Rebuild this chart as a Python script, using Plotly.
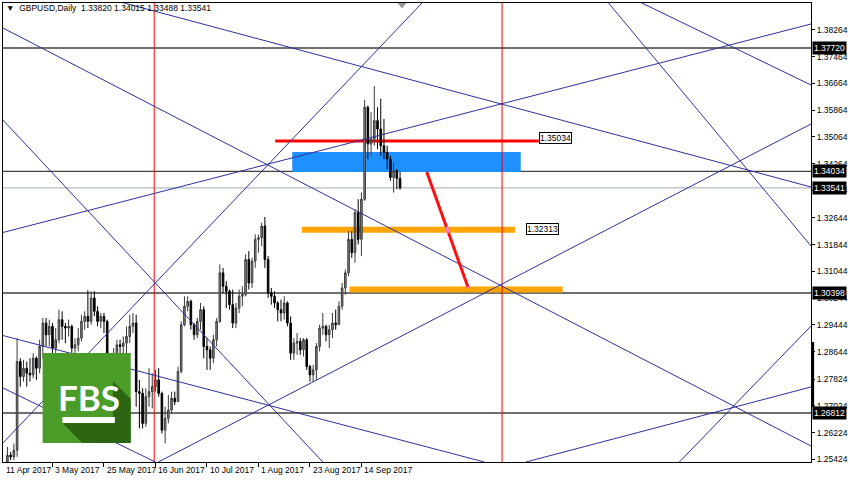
import plotly.graph_objects as go

# ---------------- data ----------------
opens = [1.2400,1.2475,1.2525,1.2555,1.2550,1.2570,1.2835,1.2790,1.2815,1.2800,
         1.2795,1.2845,1.2815,1.2880,1.2950,1.2915,1.2940,1.2875,1.2900,1.2960,
         1.2940,1.2935,1.2940,1.2875,1.2885,1.2905,1.2955,1.2970,1.2955,1.3025,
         1.2985,1.2955,1.2970,1.2955,1.2805,1.2840,1.2855,1.2885,1.2880,1.2890,
         1.2910,1.2940,1.2950,1.2745,1.2740,1.2650,1.2730,1.2745,1.2760,1.2780,
         1.2740,1.2630,1.2665,1.2690,1.2725,1.2715,1.2805,1.2945,1.3000,1.3015,
         1.2945,1.2915,1.2955,1.2990,1.2880,1.2870,1.2845,1.2900,1.2955,1.3100,
         1.3060,1.3045,1.3005,1.2950,1.2995,1.3030,1.3035,1.3140,1.3070,1.3135,
         1.3200,1.3205,1.3240,1.3140,1.3040,1.3030,1.3010,1.2990,1.2980,1.3010,
         1.2950,1.2860,1.2890,1.2895,1.2870,1.2900,1.2820,1.2795,1.2810,1.2880,
         1.2935,1.2940,1.2915,1.2930,1.2950,1.2945,1.3000,1.3055,1.3100,1.3200,
         1.3160,1.3280,1.3200,1.3320,1.3595,1.3485,1.3500,1.3555,1.3530,1.3480,
         1.3460,1.3440,1.3385,1.3405,1.33820]
highs = [1.2485,1.2535,1.2580,1.2565,1.2590,1.2905,1.2845,1.2840,1.2835,1.2845,
         1.2860,1.2850,1.2900,1.2965,1.2965,1.2960,1.2950,1.2935,1.2990,1.2985,
         1.2950,1.2960,1.2945,1.2905,1.2935,1.2975,1.2985,1.3048,1.3045,1.3045,
         1.3000,1.2980,1.2980,1.2960,1.2860,1.2875,1.2900,1.2900,1.2910,1.2940,
         1.2975,1.2980,1.2975,1.2780,1.2755,1.2755,1.2815,1.2800,1.2810,1.2815,
         1.2745,1.2700,1.2735,1.2745,1.2745,1.2820,1.2955,1.3030,1.3030,1.3020,
         1.2950,1.2965,1.3010,1.3000,1.2905,1.2880,1.2915,1.2965,1.3125,1.3115,
         1.3075,1.3050,1.3050,1.3010,1.3050,1.3060,1.3155,1.3165,1.3145,1.3215,
         1.3215,1.3250,1.3267,1.3150,1.3055,1.3045,1.3015,1.3020,1.3030,1.3015,
         1.2970,1.2905,1.2920,1.2905,1.2905,1.2905,1.2825,1.2825,1.2890,1.2945,
         1.2980,1.2945,1.2945,1.2980,1.2990,1.3015,1.3070,1.3110,1.3225,1.3225,
         1.3290,1.3320,1.3340,1.3617,1.3600,1.3580,1.3658,1.3595,1.3620,1.3560,
         1.3480,1.3450,1.3430,1.3410,1.34015]
lows = [1.2365,1.2440,1.2505,1.2540,1.2540,1.2550,1.2760,1.2775,1.2760,1.2775,
        1.2785,1.2780,1.2800,1.2845,1.2880,1.2880,1.2845,1.2850,1.2890,1.2900,
        1.2890,1.2910,1.2845,1.2840,1.2865,1.2895,1.2930,1.2935,1.2945,1.2970,
        1.2940,1.2935,1.2920,1.2800,1.2790,1.2770,1.2820,1.2840,1.2840,1.2860,
        1.2890,1.2920,1.2700,1.2635,1.2635,1.2640,1.2700,1.2695,1.2745,1.2730,
        1.2620,1.2590,1.2650,1.2680,1.2705,1.2715,1.2800,1.2940,1.2985,1.2930,
        1.2900,1.2905,1.2930,1.2845,1.2810,1.2810,1.2830,1.2880,1.2950,1.3040,
        1.2995,1.2990,1.2935,1.2935,1.2980,1.3000,1.3030,1.3050,1.3055,1.3115,
        1.3160,1.3180,1.3115,1.3025,1.3005,1.2995,1.2955,1.2955,1.2960,1.2940,
        1.2840,1.2840,1.2855,1.2855,1.2850,1.2810,1.2775,1.2774,1.2780,1.2865,
        1.2915,1.2895,1.2875,1.2905,1.2930,1.2945,1.2990,1.3035,1.3090,1.3145,
        1.3130,1.3185,1.3150,1.3315,1.3440,1.3450,1.3480,1.3470,1.3450,1.3440,
        1.3410,1.3375,1.3340,1.3350,1.33488]
closes = [1.2475,1.2525,1.2555,1.2550,1.2570,1.2835,1.2790,1.2815,1.2800,1.2795,
          1.2845,1.2815,1.2880,1.2950,1.2915,1.2940,1.2875,1.2900,1.2960,1.2940,
          1.2935,1.2940,1.2875,1.2885,1.2905,1.2955,1.2970,1.2955,1.3025,1.2985,
          1.2955,1.2970,1.2955,1.2805,1.2840,1.2855,1.2885,1.2880,1.2890,1.2910,
          1.2940,1.2950,1.2745,1.2740,1.2650,1.2730,1.2745,1.2760,1.2780,1.2740,
          1.2630,1.2665,1.2690,1.2725,1.2715,1.2805,1.2945,1.3000,1.3015,1.2945,
          1.2915,1.2955,1.2990,1.2880,1.2870,1.2845,1.2900,1.2955,1.3100,1.3060,
          1.3045,1.3005,1.2950,1.2995,1.3030,1.3035,1.3140,1.3070,1.3135,1.3200,
          1.3205,1.3240,1.3140,1.3040,1.3030,1.3010,1.2990,1.2980,1.3010,1.2950,
          1.2860,1.2890,1.2895,1.2870,1.2900,1.2820,1.2795,1.2810,1.2880,1.2935,
          1.2940,1.2915,1.2930,1.2950,1.2945,1.3000,1.3055,1.3100,1.3200,1.3160,
          1.3280,1.3200,1.3320,1.3595,1.3485,1.3500,1.3555,1.3530,1.3480,1.3460,
          1.3440,1.3385,1.3405,1.3382,1.33541]
bar_index = list(range(len(closes)))

date_tick_pos = [0, 16, 32, 48, 64, 80, 96, 112]
date_tick_labels = ["11 Apr 2017", "3 May 2017", "25 May 2017", "16 Jun 2017",
                    "10 Jul 2017", "1 Aug 2017", "23 Aug 2017", "14 Sep 2017"]

price_ticks = [1.38264, 1.37464, 1.36664, 1.35864, 1.35064, 1.34264, 1.33464,
               1.32644, 1.31844, 1.31044, 1.30244, 1.29444, 1.28644, 1.27824,
               1.27024, 1.26224, 1.25424]

hlines = [1.37720, 1.34034, 1.30398, 1.26812]   # dark horizontal levels
bid_price = 1.33541
vlines = [47.6, 155.7]                            # red vertical lines (bar index)

# trend lines: (x0, p0, x1, p1) in bar index / price
trendlines = [
    (0, 1.32191, 251.7, 1.38437),
    (0, 1.38348, 251.7, 1.25825),
    (0, 1.25855, 131.7, 1.39154),
    (0, 1.35628, 100.0, 1.25347),
    (0, 1.29143, 150.2, 1.25347),
    (0, 1.27588, 48.0, 1.25347),
    (197.2, 1.39155, 251.7, 1.36614),
    (48.9, 1.25347, 251.7, 1.35449),
    (34.8, 1.39155, 251.7, 1.33566),
    (188.0, 1.39155, 251.7, 1.31803),
    (210.8, 1.25347, 251.7, 1.29411),
    (163.1, 1.25347, 251.7, 1.27589),
]

blue_zone = (90.5, 161.5, 1.34014, 1.34612)
red_level = (85.2, 167.1, 1.34940)
orange_levels = [(93.5, 159.7, 1.32285), (108.3, 174.5, 1.30500)]
orange_half = 0.0009
forecast_path = (132.3, 1.34014, 145.2, 1.30547)
price_labels = [(167.1, 1.35034, "1.35034"), (163.1, 1.32313, "1.32313")]

X_RANGE = [0.62, 251.7]
Y_RANGE = [1.25347, 1.39065]

# ---------------- figure ----------------
fig = go.Figure()

# red vertical period separators (as traces, behind candles)
for v in vlines:
    fig.add_trace(go.Scatter(x=[v, v], y=Y_RANGE, mode="lines",
                             line=dict(color="#ff0000", width=1),
                             showlegend=False, hoverinfo="skip", cliponaxis=True))

fig.add_trace(go.Candlestick(
    x=bar_index, open=opens, high=highs, low=lows, close=closes,
    increasing=dict(fillcolor="#8a8a8a", line=dict(color="#3a3a3a", width=1)),
    decreasing=dict(fillcolor="#000000", line=dict(color="#000000", width=1)),
    whiskerwidth=0, showlegend=False, hoverinfo="skip"))

shapes = []
shapes.append(dict(type="rect", xref="x", yref="y", layer="below",
                   x0=blue_zone[0], x1=blue_zone[1], y0=blue_zone[2], y1=blue_zone[3],
                   fillcolor="#1e90ff", line=dict(width=0)))
shapes.append(dict(type="line", xref="x", yref="y", layer="below",
                   x0=red_level[0], x1=red_level[1], y0=red_level[2], y1=red_level[2],
                   line=dict(color="#ff0000", width=3)))
for x0, x1, p in orange_levels:
    shapes.append(dict(type="line", xref="x", yref="y", layer="below",
                       x0=x0, x1=x1, y0=p, y1=p, line=dict(color="#ffa500", width=6)))
for p in hlines:
    shapes.append(dict(type="line", xref="paper", yref="y", layer="below",
                       x0=0, x1=1, y0=p, y1=p, line=dict(color="#404040", width=1.3)))
shapes.append(dict(type="line", xref="paper", yref="y", layer="below",
                   x0=0, x1=1, y0=bid_price, y1=bid_price, line=dict(color="#b4bcc4", width=1.3)))
for x0, p0, x1, p1 in trendlines:
    shapes.append(dict(type="line", xref="x", yref="y", layer="above",
                       x0=x0, y0=p0, x1=x1, y1=p1, line=dict(color="#30309a", width=1)))
fx0, fp0, fx1, fp1 = forecast_path
shapes.append(dict(type="line", xref="x", yref="y", layer="above",
                   x0=fx0, y0=fp0, x1=fx1, y1=fp1, line=dict(color="#ff1010", width=3)))
# pink blend where the forecast path crosses the orange bands
for _, _, p in orange_levels:
    segs = []
    for q in (p + orange_half, p - orange_half):
        t = (fp0 - q) / (fp0 - fp1)
        t = min(max(t, 0.0), 1.0)
        segs.append((fx0 + t * (fx1 - fx0), fp0 + t * (fp1 - fp0)))
    shapes.append(dict(type="line", xref="x", yref="y", layer="above",
                       x0=segs[0][0], y0=segs[0][1], x1=segs[1][0], y1=segs[1][1],
                       line=dict(color="#ff7fc8", width=3)))

shapes.append(dict(type="line", xref="paper", yref="y", layer="above",
                   x0=1.002, x1=1.002, y0=1.26990, y1=1.28933, line=dict(color="#000000", width=3)))
shapes.append(dict(type="path", xref="x", yref="paper", layer="above",
                   path="M 123.2 1.0 L 126.0 1.0 L 124.6 0.988 Z",
                   fillcolor="#9a9a9a", line=dict(width=0)))

def px(xp):
    return (xp - 2) / 816.0
def py(yp):
    return (462 - yp) / 459.0
def xpaper(idx):
    return max(0.0, (idx - X_RANGE[0]) / (X_RANGE[1] - X_RANGE[0]))

shapes.append(dict(type="rect", xref="paper", yref="paper", layer="above",
                   x0=px(42), x1=px(131), y0=py(443), y1=py(353),
                   fillcolor="#4c9c2a", line=dict(width=0)))
shadow = "M {a} {b} L {c} {d} L {e} {f} L {g} {h} L {i} {j} L {k} {l} Z".format(
    a=px(62), b=py(423), c=px(113), d=py(423), e=px(113), f=py(381),
    g=px(131), h=py(399), i=px(131), j=py(443), k=px(82), l=py(443))
shapes.append(dict(type="path", xref="paper", yref="paper", layer="above",
                   path=shadow, fillcolor="#2c6612", line=dict(width=0)))
shapes.append(dict(type="rect", xref="paper", yref="paper", layer="above",
                   x0=px(62), x1=px(115), y0=py(423), y1=py(417),
                   fillcolor="#ffffff", line=dict(width=0)))

annotations = []
annotations.append(dict(xref="paper", yref="paper", x=px(88.5), y=py(397),
                        text="<b>FBS</b>", showarrow=False, xanchor="center", yanchor="middle",
                        font=dict(family="Lato, Roboto, Liberation Sans", size=35, color="#ffffff")))
annotations.append(dict(xref="paper", yref="paper", x=px(3), y=py(8), xanchor="left", yanchor="middle",
                        text="▼  GBPUSD,Daily  1.33820 1.34015 1.33488 1.33541", showarrow=False,
                        font=dict(family="Liberation Sans, Arial", size=8.5, color="#000000")))
for pos, lab in zip(date_tick_pos, date_tick_labels):
    annotations.append(dict(xref="paper", yref="paper", x=xpaper(pos), y=0, xanchor="left", yanchor="top",
                            xshift=1, yshift=-1, text=lab, showarrow=False,
                            font=dict(family="Liberation Sans, Arial", size=8.5, color="#000000")))
for p in hlines + [bid_price]:
    annotations.append(dict(xref="paper", yref="y", x=1.0, y=p, xanchor="left", yanchor="middle",
                            xshift=1, text="%.5f" % p, showarrow=False, bgcolor="#000000",
                            borderpad=1, font=dict(family="Liberation Sans, Arial", size=8.5, color="#ffffff")))
for xx, p, t in price_labels:
    annotations.append(dict(xref="x", yref="y", x=xx, y=p, xanchor="left", yanchor="middle",
                            text=t, showarrow=False, bgcolor="#ffffff", bordercolor="#000000",
                            borderwidth=1, borderpad=0,
                            font=dict(family="Liberation Sans, Arial", size=8.5, color="#000000")))

fig.update_layout(
    width=850, height=480,
    margin=dict(l=2, r=32, t=3, b=18, pad=0),
    paper_bgcolor="#ffffff", plot_bgcolor="#ffffff",
    shapes=shapes, annotations=annotations,
    showlegend=False, hovermode=False,
    xaxis=dict(range=X_RANGE, showgrid=False, zeroline=False, rangeslider=dict(visible=False),
               tickmode="array", tickvals=date_tick_pos, ticktext=[""] * len(date_tick_pos),
               ticks="outside", ticklen=4, tickcolor="#000000",
               showline=True, linecolor="#000000", linewidth=1, mirror=True),
    yaxis=dict(range=Y_RANGE, side="right", showgrid=False, zeroline=False,
               tickmode="array", tickvals=price_ticks, ticktext=["%.5f" % v for v in price_ticks],
               ticks="outside", ticklen=3, tickcolor="#000000",
               tickfont=dict(family="Liberation Sans, Arial", size=8.5, color="#000000"),
               showline=True, linecolor="#000000", linewidth=1, mirror=True),
)

fig.write_html("out.html", config={"staticPlot": True, "displayModeBar": False},
               post_script="document.body.style.margin='0px';document.body.style.overflow='hidden';")
